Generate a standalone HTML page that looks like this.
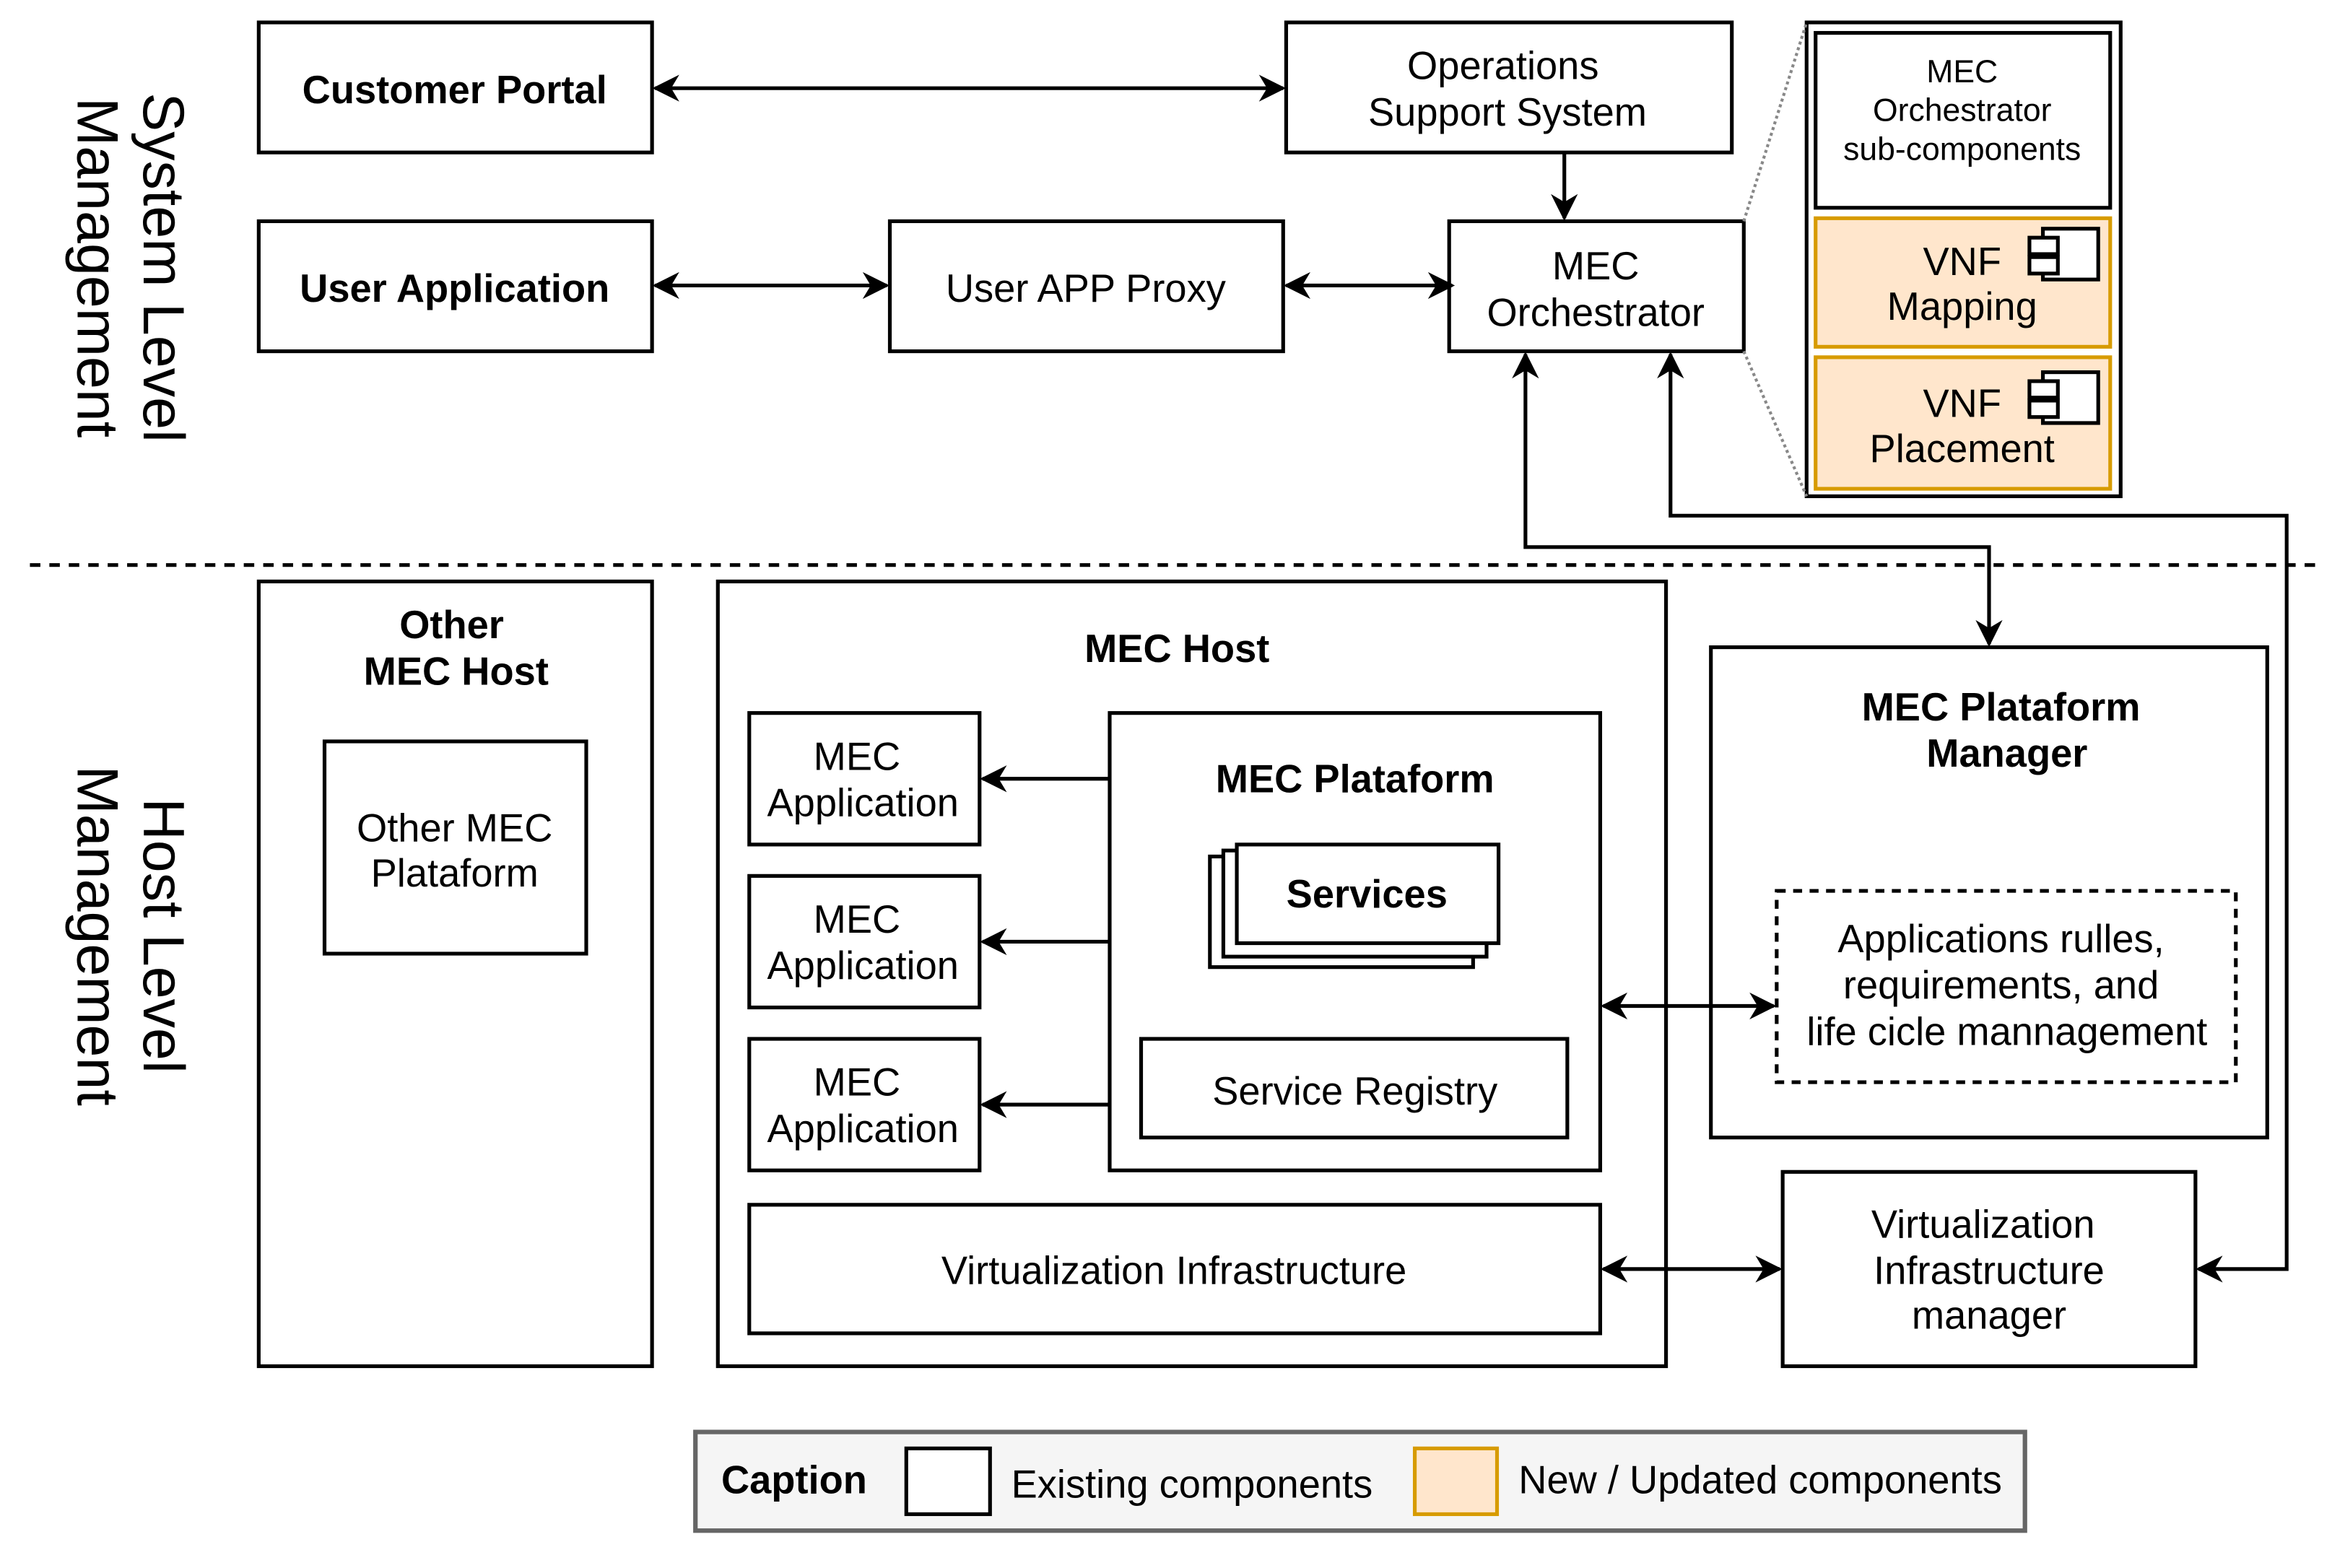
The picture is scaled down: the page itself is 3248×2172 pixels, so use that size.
<!DOCTYPE html>
<html><head><meta charset="utf-8"><style>
html,body{margin:0;padding:0;background:#fff;}
svg{display:block;}
text{font-family:"Liberation Sans",Arial,sans-serif;font-size:26.2px;fill:#000;text-anchor:middle;}
.b{font-weight:bold;}
</style></head><body>
<svg width="3248" height="2172" viewBox="0 0 1568 1049" preserveAspectRatio="none" xmlns="http://www.w3.org/2000/svg">
<defs>
<marker id="A" viewBox="0 0 10 10" refX="9" refY="5" markerWidth="18" markerHeight="18" orient="auto-start-reverse" markerUnits="userSpaceOnUse">
<path d="M0,0 L10,5 L0,10 L3,5 z" fill="#000"/></marker>
</defs>
<g fill="none" stroke="#000" stroke-width="2.5">
<rect x="173" y="15" width="263" height="87" fill="#fff"/>
<rect x="860" y="15" width="298" height="87"/>
<rect x="173" y="148" width="263" height="87"/>
<rect x="595" y="148" width="263" height="87"/>
<rect x="969" y="148" width="197" height="87"/>
<rect x="1208" y="15" width="210" height="317"/>
<rect x="1214" y="22" width="197" height="117"/>
<rect x="173" y="389" width="263" height="525"/>
<rect x="217" y="496" width="175" height="142"/>
<rect x="480" y="389" width="634" height="525"/>
<rect x="501" y="477" width="154" height="88"/>
<rect x="501" y="586" width="154" height="88"/>
<rect x="501" y="695" width="154" height="88"/>
<rect x="742" y="477" width="328" height="306"/>
<rect x="809" y="573" width="176" height="74" fill="#fff"/>
<rect x="818" y="569" width="176" height="71" fill="#fff"/>
<rect x="827" y="565" width="175" height="66" fill="#fff"/>
<rect x="763" y="695" width="285" height="66"/>
<rect x="501" y="806" width="569" height="86"/>
<rect x="1144" y="433" width="372" height="328"/>
<rect x="1188" y="596" width="307" height="128" stroke-dasharray="6,5"/>
<rect x="1192" y="784" width="276" height="130"/>
</g>
<rect x="1214" y="146" width="197" height="86" fill="#ffe6cc" stroke="#d79b00" stroke-width="2.5"/>
<rect x="1214" y="239" width="197" height="88" fill="#ffe6cc" stroke="#d79b00" stroke-width="2.5"/>
<g fill="#fff" stroke="#000" stroke-width="2.5">
<rect x="1366" y="153" width="37" height="34"/><rect x="1357" y="159" width="19" height="11"/><rect x="1357" y="172" width="19" height="11"/>
<rect x="1366" y="249" width="37" height="34"/><rect x="1357" y="255" width="19" height="11"/><rect x="1357" y="268" width="19" height="11"/>
</g>
<g stroke="#888" stroke-width="2" stroke-dasharray="2,2" fill="none">
<line x1="1166" y1="148" x2="1208" y2="15"/><line x1="1166" y1="235" x2="1208" y2="332"/>
</g>
<line x1="20" y1="378" x2="1550" y2="378" stroke="#000" stroke-width="2.5" stroke-dasharray="7,6"/>
<g stroke="#000" stroke-width="2.5" fill="none">
<line x1="438" y1="59" x2="858" y2="59" marker-start="url(#A)" marker-end="url(#A)"/>
<line x1="438" y1="191" x2="593" y2="191" marker-start="url(#A)" marker-end="url(#A)"/>
<line x1="860" y1="191" x2="971" y2="191" marker-start="url(#A)" marker-end="url(#A)"/>
<line x1="1046" y1="102" x2="1046" y2="146" marker-end="url(#A)"/>
<line x1="742" y1="521" x2="657" y2="521" marker-end="url(#A)"/>
<line x1="742" y1="630" x2="657" y2="630" marker-end="url(#A)"/>
<line x1="742" y1="739" x2="657" y2="739" marker-end="url(#A)"/>
<line x1="1072" y1="673" x2="1186" y2="673" marker-start="url(#A)" marker-end="url(#A)"/>
<line x1="1072" y1="849" x2="1190" y2="849" marker-start="url(#A)" marker-end="url(#A)"/>
<polyline points="1020,237 1020,366 1330,366 1330,431" marker-start="url(#A)" marker-end="url(#A)"/>
<polyline points="1117,237 1117,345 1529,345 1529,849 1470,849" marker-start="url(#A)" marker-end="url(#A)"/>
</g>
<text class="b" x="304" y="69">Customer Portal</text>
<text x="1005" y="53">Operations</text><text x="1008" y="84">Support System</text>
<text class="b" x="304" y="202">User Application</text>
<text x="726" y="202">User APP Proxy</text>
<text x="1067" y="187">MEC</text><text x="1067" y="218">Orchestrator</text>
<text x="1312" y="55" style="font-size:21.5px">MEC</text><text x="1312" y="81" style="font-size:21.5px">Orchestrator</text><text x="1312" y="107" style="font-size:21.5px">sub-components</text>
<text x="1312" y="184">VNF</text><text x="1312" y="214">Mapping</text>
<text x="1312" y="279">VNF</text><text x="1312" y="309">Placement</text>
<text x="0" y="0" transform="translate(96,179) rotate(90)" style="font-size:39px">System Level</text>
<text x="0" y="0" transform="translate(52,179) rotate(90)" style="font-size:39px">Management</text>
<text x="0" y="0" transform="translate(96,626) rotate(90)" style="font-size:39px">Host Level</text>
<text x="0" y="0" transform="translate(52,626) rotate(90)" style="font-size:39px">Management</text>
<text class="b" x="302" y="427">Other</text><text class="b" x="305" y="458">MEC Host</text>
<text x="304" y="563">Other MEC</text><text x="304" y="593">Plataform</text>
<text class="b" x="787" y="443">MEC Host</text>
<text x="573" y="515">MEC</text><text x="577" y="546">Application</text>
<text x="573" y="624">MEC</text><text x="577" y="655">Application</text>
<text x="573" y="733">MEC</text><text x="577" y="764">Application</text>
<text class="b" x="906" y="530">MEC Plataform</text>
<text class="b" x="914" y="607">Services</text>
<text x="906" y="739">Service Registry</text>
<text x="785" y="859">Virtualization Infrastructure</text>
<text class="b" x="1338" y="482">MEC Plataform</text><text class="b" x="1342" y="513">Manager</text>
<text x="1338" y="637">Applications rulles,</text><text x="1338" y="668">requirements, and</text><text x="1342" y="699">life cicle mannagement</text>
<text x="1326" y="828">Virtualization</text><text x="1330" y="859">Infrastructure</text><text x="1330" y="889">manager</text>
<rect x="465" y="958" width="889" height="66" fill="#f5f5f5" stroke="#666" stroke-width="3"/>
<text class="b" x="531" y="999">Caption</text>
<rect x="606" y="969" width="56" height="44" fill="#fff" stroke="#000" stroke-width="2.5"/>
<text x="797" y="1002">Existing components</text>
<rect x="946" y="969" width="55" height="44" fill="#ffe6cc" stroke="#d79b00" stroke-width="2.5"/>
<text x="1177" y="999">New / Updated components</text>
</svg>
</body></html>
